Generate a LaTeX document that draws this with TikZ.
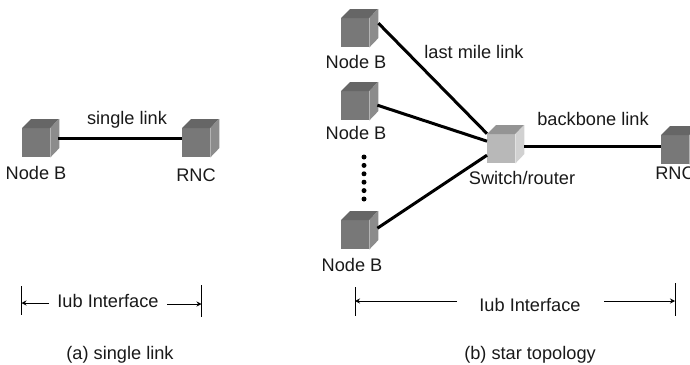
\documentclass[tikz,border=0pt]{standalone}
\usepackage{xcolor}
\usepackage{fontspec}
\setmainfont{Liberation Sans}
\usetikzlibrary{arrows.meta}
\definecolor{boxfront}{gray}{0.47}
\definecolor{boxtop}{gray}{0.40}
\definecolor{boxside}{gray}{0.55}
\definecolor{swfront}{gray}{0.72}
\definecolor{swtop}{gray}{0.58}
\definecolor{swside}{gray}{0.82}
\tikzset{
  boxfront/.style={fill=#1, minimum width=28, minimum height=29, inner sep=0, anchor=north west},
  linkline/.style={line width=3pt, black},
  lbl/.style={font=\fontsize{18.2}{20}\selectfont, text=black!90, inner sep=0},
  tick/.style={line width=0.7pt},
  iubarrow/.style={line width=0.9pt, -{Stealth[length=5pt,width=5pt]}},
}
% cube: name, x, y of front corner, colours
\newcommand{\netcube}[6]{
  \node[boxfront=#4] (#1) at (#2,#3) {};
  \fill[#5] (#1.north west) -- ++(9,-9) -- ++(28,0) -- (#1.north east) -- cycle;
  \fill[#6] (#1.north east) -- ++(9,-9) -- ++(0,29) -- (#1.south east) -- cycle;
}
\begin{document}
\begin{tikzpicture}[x=1pt,y=-1pt]
    \useasboundingbox (0,0) rectangle (690,364);
    \netcube{nba}{22}{128}{boxfront}{boxtop}{boxside}
    \netcube{rnca}{182}{128}{boxfront}{boxtop}{boxside}
    \netcube{nbb}{341}{18}{boxfront}{boxtop}{boxside}
    \netcube{nbc}{341}{91}{boxfront}{boxtop}{boxside}
    \netcube{nbd}{341}{220}{boxfront}{boxtop}{boxside}
    \netcube{sw}{487}{134}{swfront}{swtop}{swside}
    \netcube{rncb}{661}{135}{boxfront}{boxtop}{boxside}

    \coordinate (nbalink) at ([shift={(8,-4.5)}]nba.east);
    \coordinate (rncalink) at ([shift={(0,-4.5)}]rnca.west);
    \coordinate (nbblink) at ([shift={(9,-9.5)}]nbb.east);
    \coordinate (nbclink) at ([shift={(8,-0.5)}]nbc.east);
    \coordinate (nbdlink) at ([shift={(8,-6.5)}]nbd.east);
    \coordinate (swa) at ([shift={(0,-15)}]sw.west);
    \coordinate (swb) at ([shift={(0,-7.5)}]sw.west);
    \coordinate (swc) at ([shift={(0,6.5)}]sw.west);
    \coordinate (swlink) at ([shift={(9,-2.5)}]sw.east);
    \draw[linkline] (nbalink) -- (rncalink);
    \draw[linkline] (nbblink) -- (swa);
    \draw[linkline] (nbclink) -- (swb);
    \draw[linkline] (nbdlink) -- (swc);
    \draw[linkline] (swlink) -- (rncb.west |- swlink);

    \coordinate (dota) at (364,157);
    \coordinate (dotb) at (364,199);
    \draw[line width=5pt, line cap=round, dash pattern=on 0pt off 8.4pt] (dota) -- (dotb);

    \node[lbl] (la) at (36,173) {Node B};
    \node[lbl] (lb) at (196,175) {RNC};
    \node[lbl] (lc) at (127,120) {single link};
    \node[lbl] (ld) at (356,62) {Node B};
    \node[lbl] (le) at (356,133) {Node B};
    \node[lbl] (lf) at (352,265) {Node B};
    \node[lbl] (lg) at (474,52) {last mile link};
    \node[lbl] (lh) at (593,119) {backbone link};
    \node[lbl] (li) at (522,178) {Switch/router};
    \node[lbl] (lj) at (675,173) {RNC};

    \coordinate (ta1) at (21.5,286);
    \coordinate (ta2) at (21.5,315);
    \coordinate (tb1) at (201.5,285);
    \coordinate (tb2) at (201.5,317);
    \coordinate (tc1) at (355,287);
    \coordinate (tc2) at (355,316);
    \coordinate (td1) at (675,283);
    \coordinate (td2) at (675,316);
    \draw[tick] (ta1) -- (ta2);
    \draw[tick] (tb1) -- (tb2);
    \draw[tick] (tc1) -- (tc2);
    \draw[tick] (td1) -- (td2);

    \node[lbl] (ia) at (108,301) {Iub Interface};
    \node[lbl] (ib) at (530,305) {Iub Interface};
    \node[lbl] (ca) at (120,355) {(a) single link};
    \node[lbl] (cb) at (530,355) {(b) star topology};

    \coordinate (iaa) at (49,303);
    \coordinate (iab) at (167,304);
    \coordinate (iba) at (457,301);
    \coordinate (ibb) at (604,301);
    \draw[iubarrow] (iaa) -- (ta1 |- iaa);
    \draw[iubarrow] (iab) -- (tb1 |- iab);
    \draw[iubarrow] (iba) -- (tc1 |- iba);
    \draw[iubarrow] (ibb) -- (td1 |- ibb);
  \end{tikzpicture}
\end{document}
